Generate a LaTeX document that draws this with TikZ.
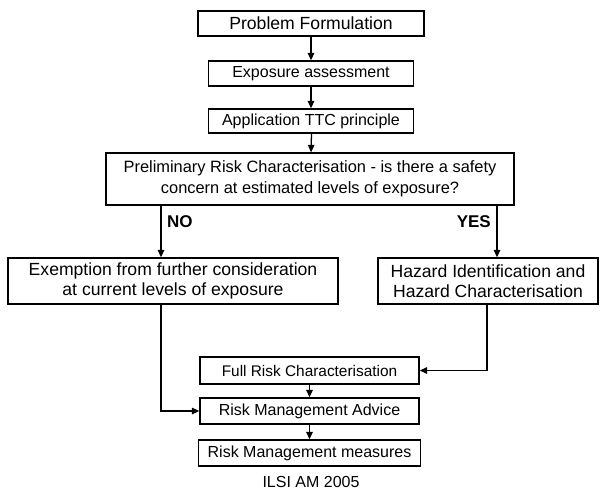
\documentclass[tikz,border=0pt]{standalone}
\usepackage{fontspec}
\setmainfont{Liberation Sans}
\usetikzlibrary{arrows.meta}
\begin{document}
\begin{tikzpicture}[x=1pt,y=-1pt,
  box/.style={draw, line width=1.3pt, inner sep=0pt, align=center,
    font=\fontsize{16}{20.5}\selectfont},
  bigtext/.style={font=\fontsize{17.6}{20.5}\selectfont},
  flow/.style={line width=1.3pt, -{Triangle[length=7.5pt,width=6.5pt]}},
  answer/.style={font=\fontsize{17}{20}\selectfont\bfseries}]
\useasboundingbox (0,0) rectangle (604,498);

% main column
\node[box, bigtext, minimum width=226pt, minimum height=25pt] (pf)  at (311,23.5) {Problem Formulation};
\node[box, minimum width=205pt, minimum height=25pt] (ea)  at (311,73.5) {Exposure assessment};
\node[box, minimum width=205pt, minimum height=24pt] (ttc) at (311,121)  {Application TTC principle};
\node[box, font=\fontsize{16.4}{20.5}\selectfont, minimum width=408pt, minimum height=52pt] (prc) at (310,179)
  {Preliminary Risk Characterisation - is there a safety\\concern at estimated levels of exposure?};

% the two outcomes
\node[box, bigtext, minimum width=330pt, minimum height=46pt] (ex) at (173,281)
  {Exemption from further consideration\\at current levels of exposure};
\node[box, bigtext, minimum width=220pt, minimum height=46pt] (hz) at (488,281)
  {Hazard Identification and\\Hazard Characterisation};

% risk management part
\node[box, font=\fontsize{15.4}{20}\selectfont, minimum width=219pt, minimum height=27pt] (frc) at (309.5,370.5) {Full Risk Characterisation};
\node[box, minimum width=219pt, minimum height=26pt] (rma) at (309.5,411)   {Risk Management Advice};
\node[box, minimum width=222pt, minimum height=26pt] (rmm) at (309.5,453)   {Risk Management measures};

\node[font=\fontsize{16}{20}\selectfont] (src) at (311,482) {ILSI AM 2005};

% branch labels
\node[answer, anchor=west, inner sep=0pt] (no)  at (167,222) {NO};
\node[answer, anchor=east, inner sep=0pt] (yes) at (491,222) {YES};

% connectors
\draw[flow] (pf.south) -- (ea.north);
\draw[flow] (ea.south) -- (ttc.north);
\draw[flow] ([xshift=0.5pt]ttc.south) -- ([xshift=1pt]prc.north);
\draw[flow] ([xshift=-149pt]prc.south) -- ([xshift=-12pt]ex.north);
\draw[flow] ([xshift=187pt]prc.south) -- ([xshift=9pt]hz.north);
\draw[flow] ([xshift=-1pt]hz.south) |- (frc.east);
\draw[flow] ([xshift=-12pt]ex.south) |- (rma.west);
\draw[flow] (frc.south) -- (rma.north);
\draw[flow] (rma.south) -- (rmm.north);
\end{tikzpicture}
\end{document}
